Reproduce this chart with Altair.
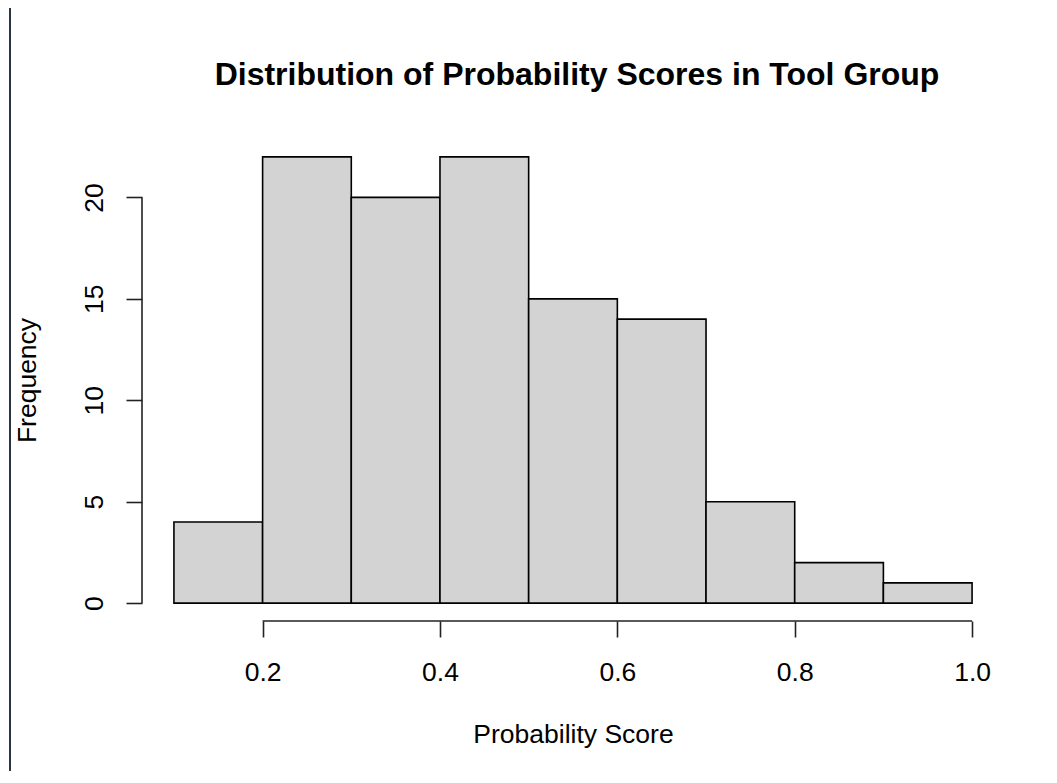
import altair as alt
import pandas as pd

# Histogram data
bin_start = [0.1, 0.2, 0.3, 0.4, 0.5, 0.6, 0.7, 0.8, 0.9]
bin_end = [0.2, 0.3, 0.4, 0.5, 0.6, 0.7, 0.8, 0.9, 1.0]
counts = [4, 22, 20, 22, 15, 14, 5, 2, 1]
x_ticks = [0.2, 0.4, 0.6, 0.8, 1.0]
y_ticks = [0, 5, 10, 15, 20]
title_text = ["Distribution of Probability Scores in Tool Group"]

df = pd.DataFrame({"start": bin_start, "end": bin_end, "count": counts})

FONT = "Liberation Sans"
W, H = 862, 482

xscale = alt.Scale(domain=[0.064, 1.036], nice=False, zero=False)
yscale = alt.Scale(domain=[-0.88, 22.88], nice=False, zero=False)

bars = alt.Chart(df).mark_rect(
    fill="#d3d3d3", stroke="black", strokeWidth=1.6
).encode(
    x=alt.X("start:Q", scale=xscale,
            axis=alt.Axis(values=x_ticks, format=".1f", domain=False, grid=False,
                          tickSize=16, tickColor="#222", tickWidth=1.6,
                          labelFont=FONT, labelFontSize=26.5, labelColor="black",
                          labelPadding=22, labelFlush=False,
                          title="Probability Score", titleFont=FONT, titleFontSize=26.5,
                          titleFontWeight="normal", titleColor="black", titlePadding=36)),
    x2="end:Q",
    y=alt.Y("zero:Q", scale=yscale,
            axis=alt.Axis(values=y_ticks, domain=False, grid=False,
                          tickSize=16, tickColor="#222", tickWidth=1.6,
                          labelFont=FONT, labelFontSize=26.5, labelColor="black",
                          labelAngle=270, labelPadding=18, labelFlush=False,
                          title="Frequency", titleFont=FONT, titleFontSize=26.5,
                          titleFontWeight="normal", titleColor="black", titlePadding=40)),
    y2="count:Q",
).transform_calculate(zero="0")

yaxis_line = alt.Chart(pd.DataFrame({"a": [y_ticks[0]], "b": [y_ticks[-1]]})).mark_rule(
    color="#222", strokeWidth=1.6
).encode(
    x=alt.value(0),
    y=alt.Y("a:Q", scale=yscale),
    y2="b:Q",
)

xaxis_line = alt.Chart(pd.DataFrame({"a": [x_ticks[0]], "b": [x_ticks[-1]]})).mark_rule(
    color="#222", strokeWidth=1.6
).encode(
    y=alt.value(H),
    x=alt.X("a:Q", scale=xscale),
    x2="b:Q",
)

title = alt.Chart(pd.DataFrame({"t": title_text})).mark_text(
    font=FONT, fontSize=32, fontWeight="bold", color="black",
    align="center", baseline="alphabetic"
).encode(
    text="t:N", x=alt.value(W / 2 + 4), y=alt.value(-54)
)

# thin dark border line at the left edge of the screenshot
edge = alt.Chart(pd.DataFrame({"a": [0]})).mark_rule(color="#2b3644", strokeWidth=2).encode(
    x=alt.value(-132), y=alt.value(-132), y2=alt.value(650)
)

chart = alt.layer(bars, yaxis_line, xaxis_line, title, edge).properties(
    width=W, height=H,
    autosize=alt.AutoSizeParams(type="none"),
    padding={"left": 134, "top": 131, "right": 40, "bottom": 150},
    background="white",
).configure_view(strokeWidth=0)

chart.save("out.html", embed_options={"renderer": "svg", "actions": False})
